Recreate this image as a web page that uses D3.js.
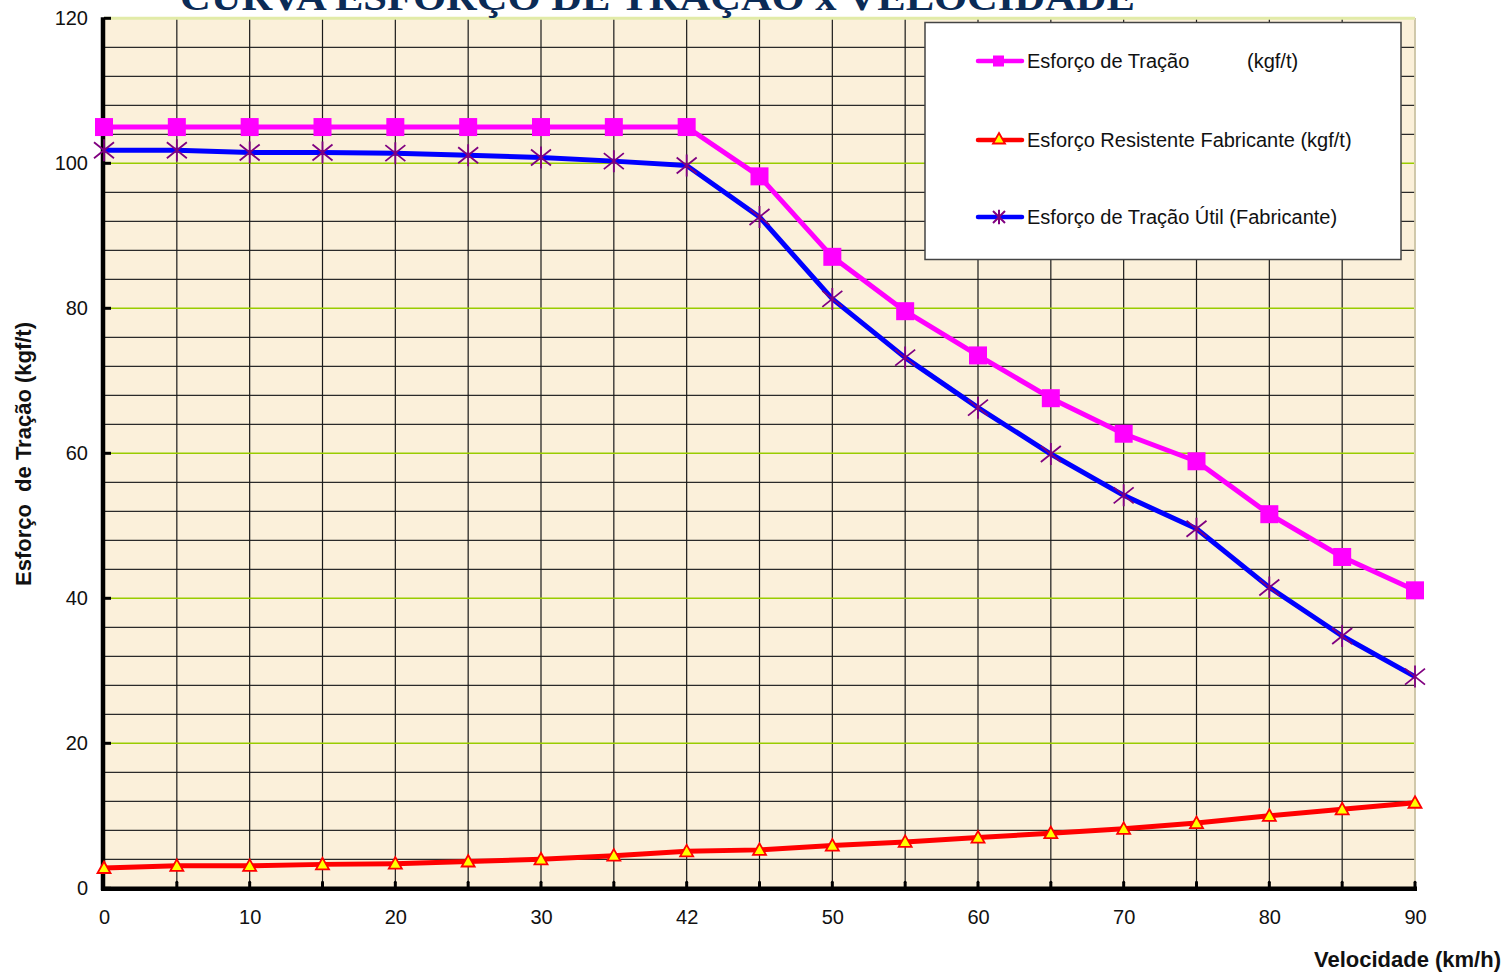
<!DOCTYPE html>
<html>
<head>
<meta charset="utf-8">
<script src="https://cdn.jsdelivr.net/npm/d3@7/dist/d3.min.js"></script>
<style>
  html, body { margin: 0; padding: 0; background: #fff; }
  svg { display: block; }
</style>
</head>
<body>
<svg id="chart" width="1510" height="975"></svg>
<script>
const categories = [0, 5, 10, 15, 20, 25, 30, 35, 42, 45, 50, 55, 60, 65, 70, 75, 80, 85, 90];
const xTickLabels = [0, 10, 20, 30, 42, 50, 60, 70, 80, 90];
const yTickLabels = [0, 20, 40, 60, 80, 100, 120];
const esforcoTracao = [105, 105, 105, 105, 105, 105, 105, 105, 105, 98.2, 87.1, 79.6, 73.5, 67.6, 62.7, 58.9, 51.6, 45.7, 41.1];
const esforcoResistente = [2.8, 3.1, 3.1, 3.3, 3.4, 3.7, 4.0, 4.5, 5.1, 5.3, 5.9, 6.4, 7.0, 7.6, 8.2, 9.0, 10.0, 10.9, 11.8];
const esforcoUtil = [101.8, 101.8, 101.5, 101.5, 101.4, 101.1, 100.8, 100.3, 99.7, 92.6, 81.3, 73.2, 66.3, 59.9, 54.2, 49.6, 41.5, 34.8, 29.2];
const seriesNames = ["Esforço de Tração", "Esforço Resistente Fabricante (kgf/t)", "Esforço de Tração Útil (Fabricante)"];
const titleText = "CURVA ESFORÇO DE TRAÇÃO x VELOCIDADE";
const xTitle = "Velocidade (km/h)";
const yTitle = "Esforço  de Tração (kgf/t)";

const svg = d3.select("#chart");
const L = 104, R = 1415, T = 18.3, B = 888.3;
const x = d3.scalePoint().domain(categories).range([L, R]);
const y = d3.scaleLinear().domain([0, 120]).range([B, T]);
const sans = "'Liberation Sans', Arial, Helvetica, sans-serif";

// plot background
svg.append("rect").attr("x", L).attr("y", T).attr("width", R - L).attr("height", B - T)
  .attr("fill", "#FBF0DA");

// horizontal minor grid (every 4)
const minor = d3.range(4, 120, 4).filter(v => v % 20 !== 0);
svg.append("g").selectAll("line").data(minor).join("line")
  .attr("x1", L).attr("x2", R).attr("y1", d => y(d)).attr("y2", d => y(d))
  .attr("stroke", "#2a2a2a").attr("stroke-width", 1.3);
// vertical grid
svg.append("g").selectAll("line").data(categories.slice(1)).join("line")
  .attr("x1", d => x(d)).attr("x2", d => x(d)).attr("y1", T).attr("y2", B)
  .attr("stroke", "#1a1a1a").attr("stroke-width", 1.2);
// major grid (every 20)
svg.append("g").selectAll("line").data([20, 40, 60, 80, 100]).join("line")
  .attr("x1", L).attr("x2", R).attr("y1", d => y(d)).attr("y2", d => y(d))
  .attr("stroke", "#99CC00").attr("stroke-width", 1.5);
svg.append("line").attr("x1", L).attr("x2", R).attr("y1", y(120)).attr("y2", y(120))
  .attr("stroke", "#E2EBA8").attr("stroke-width", 3);
svg.append("line").attr("x1", R).attr("x2", R).attr("y1", T).attr("y2", B)
  .attr("stroke", "#EFE6C0").attr("stroke-width", 1.5);

// title (clipped at top, as in the reference)
svg.append("text").attr("x", 180).attr("y", 9.5)
  .attr("font-family", "'Liberation Serif', 'Times New Roman', serif")
  .attr("font-weight", "bold").attr("font-size", 38).attr("fill", "#0B2B56")
  .attr("textLength", 955).attr("lengthAdjust", "spacingAndGlyphs")
  .text(titleText);

// axes
const xAxis = d3.axisBottom(x).tickValues(xTickLabels).tickSize(0).tickPadding(22);
const gx = svg.append("g").attr("transform", `translate(0,${B})`).call(xAxis);
gx.select(".domain").remove();
gx.selectAll("text").attr("font-family", sans).attr("font-size", 20).attr("fill", "#111");

const yAxis = d3.axisLeft(y).tickValues(yTickLabels).tickSize(0).tickPadding(16);
const gy = svg.append("g").attr("transform", `translate(${L},0)`).call(yAxis);
gy.select(".domain").remove();
gy.selectAll("text").attr("font-family", sans).attr("font-size", 20).attr("fill", "#111");

// axis lines and inner ticks
svg.append("g").selectAll("line").data(categories.slice(1)).join("line")
  .attr("x1", d => x(d)).attr("x2", d => x(d)).attr("y1", B).attr("y2", B - 6)
  .attr("stroke", "#000").attr("stroke-width", 3).attr("stroke-linecap", "round");
svg.append("g").selectAll("line").data(yTickLabels).join("line")
  .attr("x1", L).attr("x2", L + 7).attr("y1", d => y(d)).attr("y2", d => y(d))
  .attr("stroke", "#000").attr("stroke-width", 3);
svg.append("line").attr("x1", L - 1).attr("x2", L - 1).attr("y1", T - 1).attr("y2", B + 2)
  .attr("stroke", "#000").attr("stroke-width", 4.5);
svg.append("line").attr("x1", L - 3).attr("x2", R + 2).attr("y1", B + 0.5).attr("y2", B + 0.5)
  .attr("stroke", "#000").attr("stroke-width", 4.5);

// axis titles
svg.append("text").attr("x", 1501).attr("y", 967).attr("text-anchor", "end")
  .attr("font-family", sans).attr("font-weight", "bold").attr("font-size", 22).attr("fill", "#111")
  .text(xTitle);
svg.append("text").attr("transform", `translate(31,454) rotate(-90)`).attr("text-anchor", "middle")
  .attr("font-family", sans).attr("font-weight", "bold").attr("font-size", 22).attr("fill", "#111")
  .attr("xml:space", "preserve").style("white-space", "pre")
  .text(yTitle);

// series
const line = d3.line().x((d, i) => x(categories[i])).y(d => y(d));
function drawSquare(g, cx, cy) {
  g.append("rect").attr("x", cx - 9).attr("y", cy - 9).attr("width", 18).attr("height", 18).attr("fill", "#FF00FF");
}
function drawTriangle(g, cx, cy) {
  g.append("path").attr("d", `M${cx},${cy - 6.5} L${cx + 6.5},${cy + 5} L${cx - 6.5},${cy + 5} Z`)
    .attr("fill", "#FFFF00").attr("stroke", "#FF0000").attr("stroke-width", 1.8).attr("stroke-linejoin", "miter");
}
function drawStar(g, cx, cy) {
  const s = 10;
  g.append("path").attr("d", `M${cx - s},${cy - s * 0.8}L${cx + s},${cy + s * 0.8}M${cx - s},${cy + s * 0.8}L${cx + s},${cy - s * 0.8}M${cx},${cy - s * 1.1}L${cx},${cy + s * 1.1}`)
    .attr("stroke", "#800080").attr("stroke-width", 1.8).attr("fill", "none");
}

const series = [
  { data: esforcoResistente, color: "#FF0000", marker: drawTriangle },
  { data: esforcoUtil, color: "#0000FF", marker: drawStar },
  { data: esforcoTracao, color: "#FF00FF", marker: drawSquare }
];
series.forEach(s => {
  svg.append("path").datum(s.data).attr("d", line).attr("fill", "none")
    .attr("stroke", s.color).attr("stroke-width", 5).attr("stroke-linejoin", "round");
});
series.forEach(s => {
  const g = svg.append("g");
  s.data.forEach((v, i) => s.marker(g, x(categories[i]), y(v)));
});

// legend
const lg = svg.append("g");
lg.append("rect").attr("x", 925).attr("y", 22.5).attr("width", 476).attr("height", 237)
  .attr("fill", "#fff").attr("stroke", "#444").attr("stroke-width", 1.5);
const legendItems = [
  { name: seriesNames[0], color: "#FF00FF", marker: drawSquare, yy: 61, extra: "(kgf/t)" },
  { name: seriesNames[1], color: "#FF0000", marker: drawTriangle, yy: 140 },
  { name: seriesNames[2], color: "#0000FF", marker: drawStar, yy: 217 }
];
legendItems.forEach(it => {
  lg.append("line").attr("x1", 978).attr("x2", 1022).attr("y1", it.yy).attr("y2", it.yy)
    .attr("stroke", it.color).attr("stroke-width", 4.5).attr("stroke-linecap", "round");
  if (it.marker === drawSquare) {
    lg.append("rect").attr("x", 993).attr("y", it.yy - 5.5).attr("width", 11).attr("height", 11).attr("fill", "#FF00FF");
  } else if (it.marker === drawTriangle) {
    lg.append("path").attr("d", `M999,${it.yy - 7} L1005,${it.yy + 3.5} L993,${it.yy + 3.5} Z`)
      .attr("fill", "#FFFF00").attr("stroke", "#FF0000").attr("stroke-width", 1.8);
  } else {
    const cx = 999, cy = it.yy, s = 6;
    lg.append("path").attr("d", `M${cx - s},${cy - s}L${cx + s},${cy + s}M${cx - s},${cy + s}L${cx + s},${cy - s}M${cx},${cy - s * 1.2}L${cx},${cy + s * 1.2}`)
      .attr("stroke", "#800080").attr("stroke-width", 2);
  }
  const t = lg.append("text").attr("x", 1027).attr("y", it.yy + 7)
    .attr("font-family", sans).attr("font-size", 20).attr("fill", "#111");
  t.append("tspan").text(it.name);
  if (it.extra) t.append("tspan").attr("x", 1247).text(it.extra);
});
</script>
</body>
</html>
